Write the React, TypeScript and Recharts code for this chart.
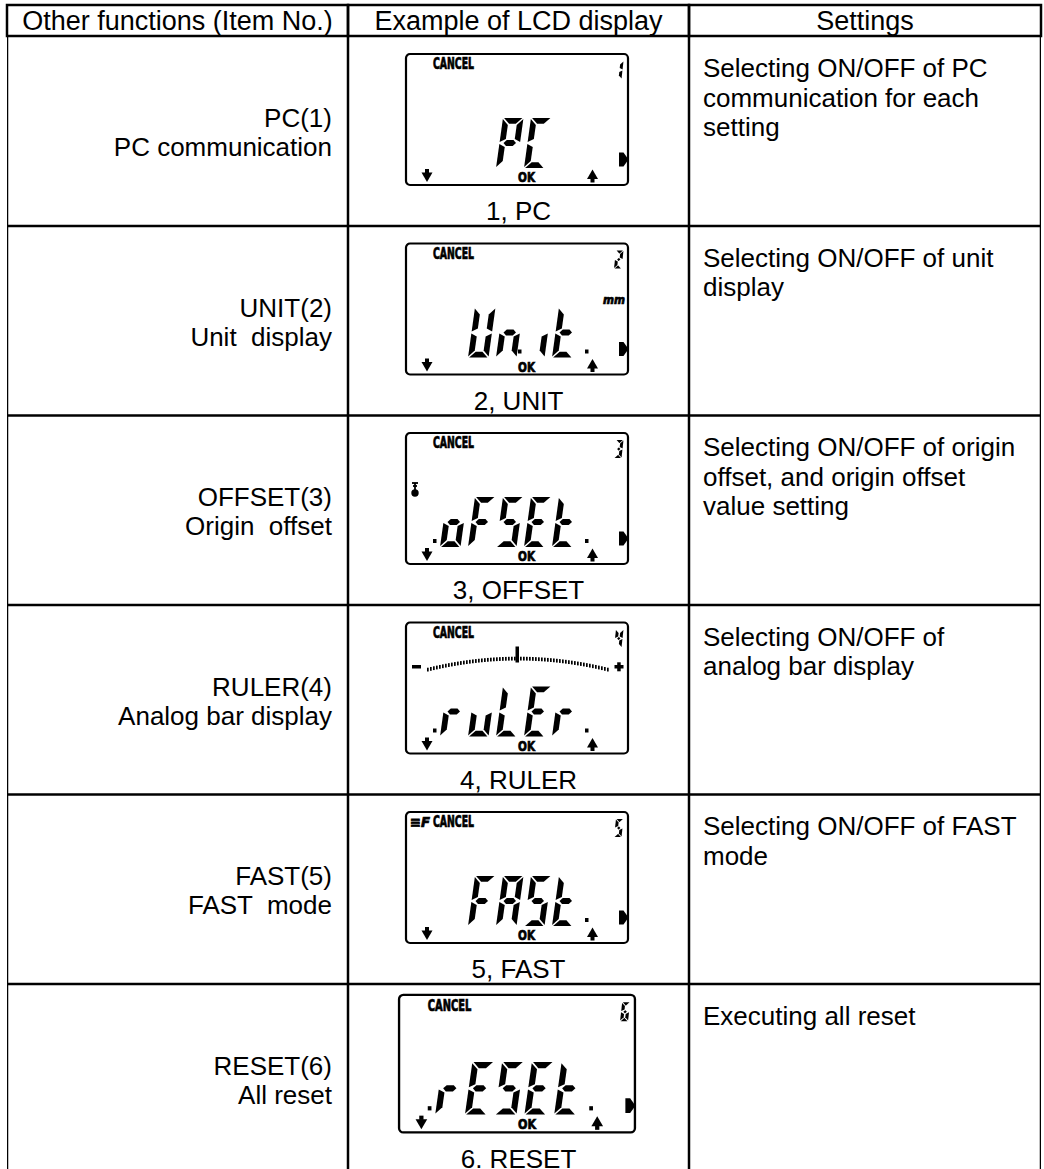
import { Bar, BarChart, XAxis, YAxis } from "recharts";

const HEADERS = ["Other functions (Item No.)", "Example of LCD display", "Settings"];
const ITEMS = ["PC(1)", "UNIT(2)", "OFFSET(3)", "RULER(4)", "FAST(5)", "RESET(6)"];
const FUNCTIONS = ["PC communication", "Unit  display", "Origin  offset", "Analog bar display", "FAST  mode", "All reset"];
const CAPTIONS = ["1, PC", "2, UNIT", "3, OFFSET", "4, RULER", "5, FAST", "6. RESET"];
const SETTINGS = [
  ["Selecting ON/OFF of PC", "communication for each", "setting"],
  ["Selecting ON/OFF of unit", "display"],
  ["Selecting ON/OFF of origin", "offset, and origin offset", "value setting"],
  ["Selecting ON/OFF of", "analog bar display"],
  ["Selecting ON/OFF of FAST", "mode"],
  ["Executing all reset"],
];
// LCD main digits, 5 positions; "." lights a decimal point
const LCD_TEXT = ["  PC ", " Un.it.", ".oFSEt.", ".ruLEr.", " FASt.", ".rESEt."];
const LCD_NUM = ["1", "2", "3", "4", "5", "6"];
const LCD_ICON = ["", "mm", "zero", "bar", "fast", ""];
const LCD_RIGHT = [true, true, true, false, true, true];

const COL_W = [341, 341, 352];
const TABLE_W = COL_W.reduce((a, b) => a + b, 0);
const COL_CENTERS = COL_W.map((w, i) => COL_W.slice(0, i).reduce((a, b) => a + b, 0) + w / 2);
const FONT = "'Liberation Sans', Arial, Helvetica, sans-serif";
const LCD_FONT = "'DejaVu Sans Condensed', 'DejaVu Sans', sans-serif";
const LINE = 2.5;

const rows = ITEMS.map((item) => ({ item, span: TABLE_W }));

const SEGS: Record<string, string> = {
  P: "abefg", C: "adef", U: "bcdef", n: "ceg", i: "c", t: "defg", o: "cdeg", F: "aefg",
  S: "acdfg", E: "adefg", r: "eg", u: "cde", L: "def", A: "abcefg",
  "1": "bc", "2": "abdeg", "3": "abcdg", "4": "bcfg", "5": "acdfg", "6": "acdefg",
};

function Glyph({ ch, x, y, w, h, t, slant, g = 1.1 }: { ch: string; x: number; y: number; w: number; h: number; t: number; slant: number; g?: number }) {
  const m = h / 2;
  const P: Record<string, number[][]> = {
    a: [[g, 0], [w - g, 0], [w - t - g, t], [t + g, t]],
    b: [[w, g], [w, m - g], [w - t, m - t / 2 - g], [w - t, t + g]],
    c: [[w, m + g], [w, h - g], [w - t, h - t - g], [w - t, m + t / 2 + g]],
    d: [[t + g, h - t], [w - t - g, h - t], [w - g, h], [g, h]],
    e: [[0, m + g], [t, m + t / 2 + g], [t, h - t - g], [0, h - g]],
    f: [[0, g], [t, t + g], [t, m - t / 2 - g], [0, m - g]],
    g: [[g + t / 2, m], [t + g, m - t / 2], [w - t - g, m - t / 2], [w - g - t / 2, m], [w - t - g, m + t / 2], [t + g, m + t / 2]],
  };
  const segs = (SEGS[ch] || "").split("");
  return (
    <g transform={`translate(${x},${y})`}>
      {segs.map((s) => (
        <polygon key={s} fill="#000" points={P[s].map(([px, py]) => `${px + ((h - py) * slant) / h},${py}`).join(" ")} />
      ))}
    </g>
  );
}

function parseLcd(s: string) {
  const slots: { ch: string; dot: boolean }[] = [];
  let lead = false;
  for (const c of s) {
    if (c === ".") {
      if (slots.length) slots[slots.length - 1].dot = true;
      else lead = true;
    } else slots.push({ ch: c, dot: false });
  }
  return { lead, slots };
}

const heavy = { fontFamily: LCD_FONT, fontWeight: 900, stroke: "#000", strokeWidth: 0.7, lengthAdjust: "spacingAndGlyphs" } as const;

function Lcd({ i }: { i: number }) {
  const { lead, slots } = parseLcd(LCD_TEXT[i]);
  const icon = LCD_ICON[i];
  const ticks = [];
  for (let tx = 22; tx <= 202; tx += 3) {
    const ty = 37 + 11 * Math.pow((tx - 112) / 90, 2);
    ticks.push(<rect key={tx} x={tx} y={ty - 1.8} width={1.7} height={3.8} fill="#000" />);
  }
  return (
    <g>
      <rect x={1} y={1} width={222} height={131} rx={4} fill="#fff" stroke="#000" strokeWidth={2.2} />
      {icon === "fast" && (
        <text x={5} y={16} fontSize={14} fontStyle="italic" textLength={20} {...heavy}>≡F</text>
      )}
      <text x={28} y={16} fontSize={15} textLength={41} {...heavy}>CANCEL</text>
      <Glyph ch={LCD_NUM[i]} x={209} y={8} w={7.5} h={18} t={3} slant={2} g={0.6} />
      {icon === "mm" && (
        <text x={198} y={61} fontSize={12} fontStyle="italic" textLength={22} {...heavy}>mm</text>
      )}
      {icon === "zero" && (
        <g stroke="#000" strokeWidth={1.8} fill="#000">
          <line x1={7} x2={13} y1={51} y2={51} />
          <line x1={8} x2={12} y1={54} y2={54} />
          <line x1={10} x2={10} y1={51} y2={58} />
          <circle cx={10} cy={61} r={2.8} />
        </g>
      )}
      {icon === "bar" && (
        <g>
          <rect x={7} y={43.5} width={9} height={3.5} fill="#000" />
          {ticks}
          <rect x={110.5} y={25} width={3.5} height={16} fill="#000" />
          <rect x={209.5} y={43.5} width={9} height={3.5} fill="#000" />
          <rect x={212.2} y={40.8} width={3.5} height={9} fill="#000" />
        </g>
      )}
      {lead && <rect x={28} y={107} width={3.5} height={4} fill="#000" />}
      {slots.map((s, k) => (
        <g key={k}>
          <Glyph ch={s.ch} x={35 + 28 * k} y={65} w={20.5} h={50} t={5.8} slant={7} />
          {s.dot && <rect x={35 + 28 * k + (k === 4 ? 33 : 22)} y={107} width={3.5} height={4} fill="#000" />}
        </g>
      ))}
      <rect x={20} y={116} width={4} height={4} fill="#000" />
      <polygon points="16.5,119.5 27.5,119.5 22,129" fill="#000" />
      <text x={113} y={129} fontSize={14} textLength={17} {...heavy}>OK</text>
      <polygon points="182,126 193,126 187.5,116.5" fill="#000" />
      <rect x={185.5} y={125.5} width={4} height={4} fill="#000" />
      {LCD_RIGHT[i] && <polygon points="214,99.5 218.5,99.5 223.5,106.5 218.5,113.5 214,113.5" fill="#000" />}
    </g>
  );
}

function HeaderTick(p: any) {
  const { x, y, index } = p;
  const w = COL_W[index];
  return (
    <g>
      <rect x={x - w / 2} y={y - 31} width={w} height={31} fill="none" stroke="#000" strokeWidth={LINE} />
      <text x={x} y={y - 6} textAnchor="middle" fontFamily={FONT} fontSize={27} fill="#000">
        {HEADERS[index]}
      </text>
    </g>
  );
}

function renderRow(p: any) {
  const { x, y, width, height, index: i } = p;
  const k = width / TABLE_W;
  const edges = [0, COL_W[0], COL_W[0] + COL_W[1], TABLE_W].map((e) => x + e * k);
  const bottom = y + height;
  const mid = y + height / 2;
  const c2 = (edges[1] + edges[2]) / 2;
  const big = i === ITEMS.length - 1;
  const sx = big ? 1.0625 : 1;
  const sy = big ? 1.05 : 1;
  const boxTop = bottom - 40 - 133 * sy;
  return (
    <g>
      <line x1={x} x2={x + width} y1={bottom} y2={bottom} stroke="#000" strokeWidth={LINE} />
      {edges.map((e, j) => (
        <line key={j} x1={e} x2={e} y1={y} y2={bottom} stroke="#000" strokeWidth={LINE} />
      ))}
      <text textAnchor="end" fontFamily={FONT} fontSize={26} fill="#000" style={{ whiteSpace: "pre" }}>
        <tspan x={edges[1] - 16} y={mid - 4}>{ITEMS[i]}</tspan>
        <tspan x={edges[1] - 16} y={mid + 25}>{FUNCTIONS[i]}</tspan>
      </text>
      <g transform={`translate(${c2 - 112 * sx - 1.5},${boxTop}) scale(${sx},${sy})`}>
        <Lcd i={i} />
      </g>
      <text x={c2} y={bottom - 6} textAnchor="middle" fontFamily={FONT} fontSize={26} fill="#000">
        {CAPTIONS[i]}
      </text>
      <text fontFamily={FONT} fontSize={26} fill="#000">
        {SETTINGS[i].map((s, j) => (
          <tspan key={j} x={edges[2] + 14} y={y + 41 + 29.5 * j}>{s}</tspan>
        ))}
      </text>
    </g>
  );
}

export default function App() {
  return (
    <div style={{ position: "fixed", left: 0, top: 0, width: 1044, height: 1169, overflow: "hidden", background: "#fff" }}>
      <BarChart
        width={1044}
        height={1177}
        data={rows}
        layout="vertical"
        margin={{ top: 5, right: 3, bottom: 4, left: 7 }}
        barCategoryGap={0}
      >
        <XAxis
          type="number"
          orientation="top"
          domain={[0, TABLE_W]}
          allowDataOverflow
          ticks={COL_CENTERS}
          interval={0}
          height={31}
          axisLine={false}
          tickLine={false}
          tickSize={0}
          tickMargin={0}
          tick={(p: any) => <HeaderTick {...p} />}
        />
        <YAxis type="category" dataKey="item" hide />
        <Bar dataKey="span" shape={renderRow} isAnimationActive={false} />
      </BarChart>
    </div>
  );
}
